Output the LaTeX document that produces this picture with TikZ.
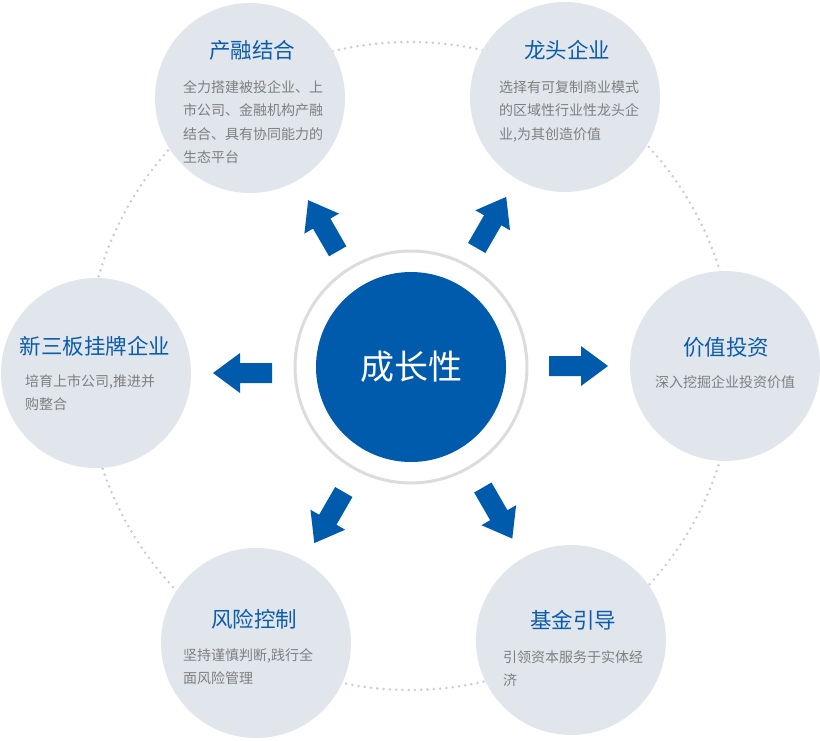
\documentclass[tikz,border=0pt]{standalone}
\usepackage{fontspec}
\setmainfont{Noto Sans CJK SC}
\definecolor{satfill}{HTML}{E1E6EC}
\definecolor{mainblue}{HTML}{005BAC}
\definecolor{titleblue}{HTML}{0B5CAB}
\definecolor{bodygray}{HTML}{7F7F7F}
\definecolor{ringgray}{HTML}{DCDCDC}
\definecolor{dotgray}{HTML}{CACDD2}
\begin{document}
\begin{tikzpicture}[x=1pt,y=-1pt,
  sat/.style={circle,fill=satfill,minimum size=190pt,inner sep=0pt},
  sattitle/.style={text=titleblue,inner sep=0pt,font=\fontsize{21.5}{24}\selectfont},
  satbody/.style={text=bodygray,inner sep=0pt,align=left,font=\fontsize{14}{23.5}\selectfont},
  blkarrow/.pic={\fill[mainblue] (0,-10) -- (32,-10) -- (32,-20) -- (59,0) -- (32,20) -- (32,10) -- (0,10) -- cycle;}
]
\useasboundingbox (0,0) rectangle (820,740);
\fill[white] (0,0) rectangle (820,740);
% dotted orbit
\draw[dotgray,line width=2.8pt,line cap=round,dash pattern=on 0pt off 6.3pt] (410,366) circle[radius=324];
% satellites
\node[sat] (s1) at (250,98) {};
\node[sat] (s2) at (565,97) {};
\node[sat] (s3) at (96,373) {};
\node[sat] (s4) at (725,366) {};
\node[sat] (s5) at (256,643) {};
\node[sat] (s6) at (571,640) {};
% centre
\node[circle,draw=ringgray,line width=3pt,fill=white,minimum size=232pt,inner sep=0pt] (ring) at (411,367) {};
\node[circle,fill=mainblue,minimum size=190pt,inner sep=0pt,text=white,font=\fontsize{34}{36}\selectfont] (core) at (411,367) {成长性};
% texts
\node[sattitle] (t1) at (252,50) {产融结合};
\node[satbody,anchor=north west] (b1) at (183,80) {全力搭建被投企业、上\\市公司、金融机构产融\\结合、具有协同能力的\\生态平台};
\node[sattitle] (t2) at (567,50) {龙头企业};
\node[satbody,anchor=north west] (b2) at (499,80) {选择有可复制商业模式\\的区域性行业性龙头企\\业,为其创造价值};
\node[sattitle] (t3) at (95,346) {新三板挂牌企业};
\node[satbody,anchor=north west] (b3) at (25,374) {培育上市公司,推进并\\购整合};
\node[sattitle] (t4) at (726,347) {价值投资};
\node[satbody] (b4) at (725,382) {深入挖掘企业投资价值};
\node[sattitle] (t5) at (254,619) {风险控制};
\node[satbody,anchor=north west] (b5) at (183,648) {坚持谨慎判断,践行全\\面风险管理};
\node[sattitle] (t6) at (573,620) {基金引导};
\node[satbody,anchor=north west] (b6) at (503,650) {引领资本服务于实体经\\济};
% arrows
\pic at (549,366) {blkarrow};
\pic[rotate=180] at (272,373) {blkarrow};
\pic[rotate=120] at (337.7,251.3) {blkarrow};
\pic[rotate=60] at (476.7,248) {blkarrow};
\pic[rotate=240] at (343.8,492) {blkarrow};
\pic[rotate=300] at (482.8,487.5) {blkarrow};
\end{tikzpicture}
\end{document}
